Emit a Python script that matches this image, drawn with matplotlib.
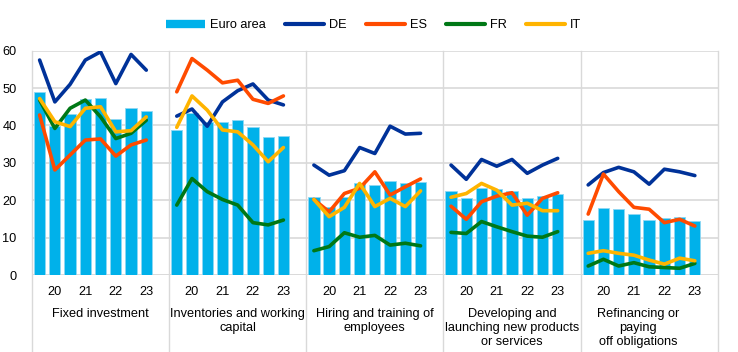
import matplotlib
matplotlib.use("Agg")
import matplotlib.pyplot as plt
from matplotlib.lines import Line2D
import matplotlib.transforms as mtransforms

plt.rcParams['font.family'] = ['Liberation Sans', 'DejaVu Sans']

categories = ["Fixed investment",
              "Inventories and working\ncapital",
              "Hiring and training of\nemployees",
              "Developing and\nlaunching new products\nor services",
              "Refinancing or\npaying\noff obligations"]
year_labels = ["20", "21", "22", "23"]

euro_area = [[49.0, 39.8, 43.0, 47.1, 47.3, 41.6, 44.6, 43.9],
             [38.9, 43.4, 41.0, 40.9, 41.4, 39.6, 37.0, 37.3],
             [20.8, 18.3, 20.8, 24.5, 24.0, 25.1, 24.7, 24.8],
             [22.4, 20.5, 23.4, 22.9, 22.5, 20.5, 21.1, 21.6],
             [14.7, 17.8, 17.6, 16.2, 14.7, 15.2, 15.6, 14.4]]
de = [[57.5, 46.3, 51.0, 57.5, 59.7, 51.2, 59.0, 54.8],
      [42.5, 44.4, 39.8, 46.3, 49.3, 51.1, 46.8, 45.5],
      [29.4, 26.7, 27.9, 34.1, 32.5, 39.8, 37.7, 37.9],
      [29.4, 25.6, 30.9, 29.1, 30.9, 27.2, 29.4, 31.2],
      [24.1, 27.4, 28.8, 27.6, 24.3, 28.3, 27.6, 26.6]]
es = [[42.8, 28.1, 32.1, 36.1, 36.4, 31.8, 34.8, 36.1],
      [49.0, 57.9, 54.8, 51.4, 52.1, 47.0, 45.9, 47.9],
      [20.2, 16.9, 21.8, 23.2, 27.6, 21.4, 23.6, 25.7],
      [18.4, 14.9, 19.6, 21.1, 22.0, 16.0, 20.5, 22.0],
      [16.3, 27.0, 22.3, 18.1, 17.6, 14.0, 14.9, 13.1]]
fr = [[46.8, 39.2, 44.6, 46.8, 42.3, 36.5, 37.9, 41.4],
      [18.7, 25.8, 22.3, 20.2, 18.7, 14.0, 13.4, 14.7],
      [6.5, 7.6, 11.3, 10.1, 10.6, 8.0, 8.5, 7.8],
      [11.4, 11.1, 14.3, 12.9, 11.6, 10.4, 10.1, 11.6],
      [2.4, 4.2, 2.4, 3.3, 2.2, 2.0, 1.8, 3.1]]
it = [[47.2, 41.0, 39.7, 44.6, 45.0, 38.3, 38.6, 42.3],
      [39.5, 47.9, 44.1, 38.8, 38.3, 34.8, 30.3, 34.1],
      [20.2, 15.6, 18.1, 24.5, 18.3, 20.5, 18.3, 22.5],
      [20.8, 21.8, 24.5, 22.7, 18.7, 19.2, 17.2, 17.2],
      [5.8, 6.5, 5.8, 5.3, 4.0, 2.9, 4.5, 3.8]]

C_EA = '#00B1EA'
C_DE = '#003299'
C_ES = '#FF4B00'
C_FR = '#007816'
C_IT = '#FFB400'
GRID = '#d9d9d9'
FS = 9.2

fig = plt.figure(figsize=(7.38, 3.52), dpi=100)
ax = fig.add_axes([32/738, 1-275/352, (717.7-32)/738, (275-50.7)/352])

slot = 9
n = 8
for g in range(len(categories)):
    xs = [g*slot + i for i in range(n)]
    ax.bar(xs, euro_area[g], width=0.74, color=C_EA, edgecolor='#8fd8f3',
           linewidth=0.6, zorder=2)
    for series, col in ((de, C_DE), (es, C_ES), (fr, C_FR), (it, C_IT)):
        ax.plot(xs, series[g], color=col, lw=2.6, zorder=3,
                solid_capstyle='round', solid_joinstyle='round')

ax.set_ylim(0, 60)
ax.set_xlim(-0.5, len(categories)*slot - 0.5)
ax.set_yticks(range(0, 61, 10))
ax.yaxis.grid(True, color=GRID, lw=1.2, zorder=0)
ax.set_axisbelow(True)
for s in ax.spines.values():
    s.set_visible(False)
ax.axhline(0, color=GRID, lw=1.2, zorder=1)

tick_pos = []
tick_lab = []
for g in range(len(categories)):
    for k, lab in enumerate(year_labels):
        tick_pos.append(g*slot + 1 + 2*k)
        tick_lab.append(lab)
ax.set_xticks(tick_pos)
ax.set_xticklabels(tick_lab)
ax.tick_params(axis='both', length=0, labelsize=FS, colors='black')
ax.tick_params(axis='y', pad=11)
ax.tick_params(axis='x', pad=8)

trans = mtransforms.blended_transform_factory(ax.transData, ax.transAxes)
for g in range(len(categories) + 1):
    xline = g*slot - 0.5
    ax.plot([xline, xline], [-0.35, 1.0], color=GRID, lw=1.0,
            transform=trans, clip_on=False, zorder=1)

centers = [4.0, 13.0, 22.0, 31.0, 39.3]
for c, lab in zip(centers, categories):
    ax.text(c, -0.145, lab, transform=trans, ha='center', va='top',
            fontsize=FS, linespacing=1.25)

handles = [Line2D([], [], color=C_EA, lw=6, solid_capstyle='butt'),
           Line2D([], [], color=C_DE, lw=3, solid_capstyle='round'),
           Line2D([], [], color=C_ES, lw=3, solid_capstyle='round'),
           Line2D([], [], color=C_FR, lw=3, solid_capstyle='round'),
           Line2D([], [], color=C_IT, lw=3, solid_capstyle='round')]
labels = ["Euro area", "DE", "ES", "FR", "IT"]
fig.legend(handles, labels, loc='center', bbox_to_anchor=(0.506, 0.929),
           ncol=5, frameon=False, fontsize=FS, handlelength=3.1,
           handletextpad=0.35, columnspacing=1.5)

fig.savefig('out.png', dpi=100)
